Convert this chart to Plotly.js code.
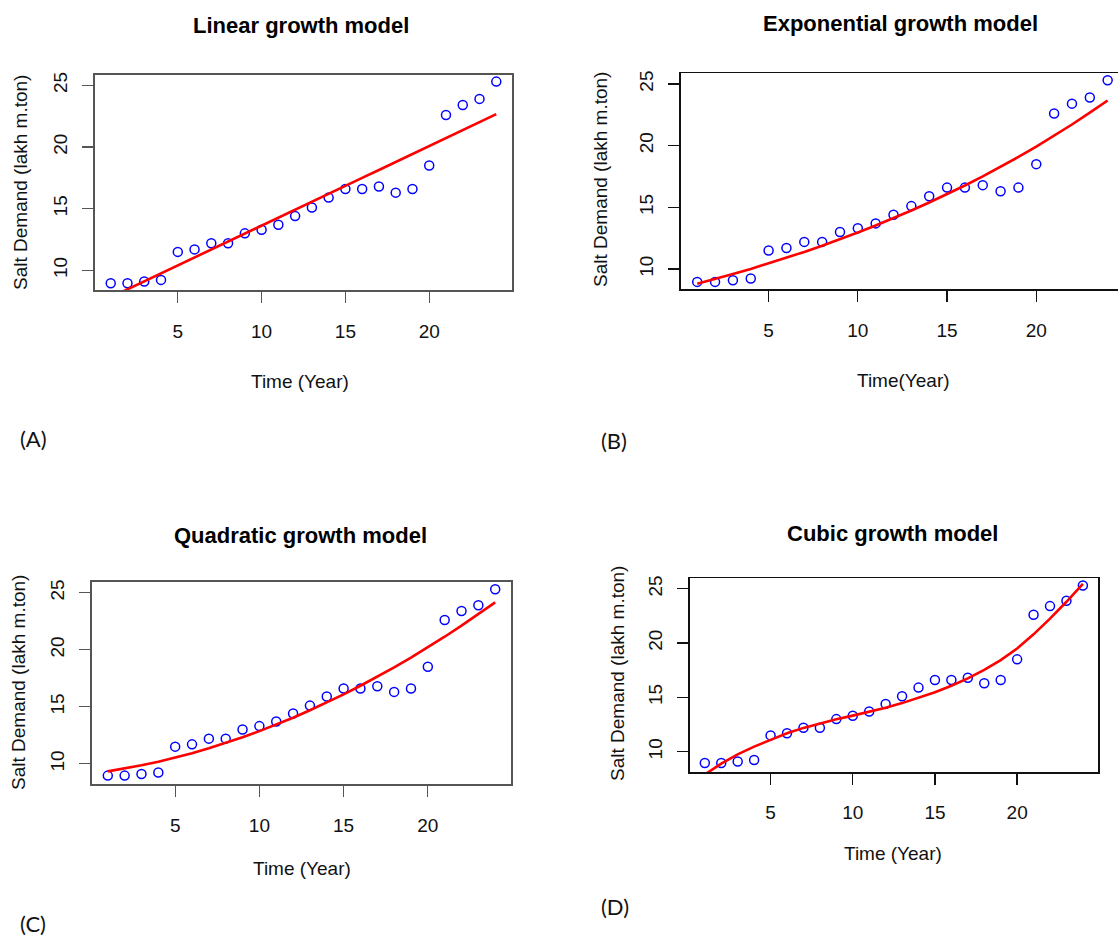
<!DOCTYPE html>
<html>
<head>
<meta charset="utf-8">
<script src="https://cdn.plot.ly/plotly-3.0.1.min.js"></script>
<style>html,body{margin:0;padding:0;background:#fff;}#chart{width:1118px;height:936px;}</style>
</head>
<body>
<div id="chart"></div>
<script>
// ---- data ----
const years = [1,2,3,4,5,6,7,8,9,10,11,12,13,14,15,16,17,18,19,20,21,22,23,24];
const saltDemand = [8.96,8.96,9.1,9.23,11.5,11.7,12.2,12.2,13.0,13.3,13.7,14.4,15.1,15.9,16.6,16.6,16.8,16.3,16.6,18.5,22.6,23.4,23.9,25.3];
const linearFit = [7.82,8.47,9.11,9.76,10.40,11.05,11.69,12.34,12.98,13.63,14.27,14.92,15.56,16.21,16.85,17.50,18.14,18.79,19.43,20.08,20.72,21.37,22.01,22.66];
const exponentialFit = [8.80,9.18,9.59,10.01,10.45,10.91,11.39,11.89,12.41,12.96,13.53,14.12,14.74,15.39,16.07,16.77,17.51,18.28,19.08,19.92,20.80,21.71,22.67,23.66];
const quadraticFit = [9.33,9.58,9.86,10.18,10.54,10.93,11.36,11.83,12.33,12.86,13.43,14.04,14.69,15.37,16.08,16.84,17.62,18.45,19.31,20.21,21.14,22.11,23.11,24.15];
const cubicFit = [7.9,8.9,9.75,10.47,11.09,11.69,12.19,12.61,12.98,13.32,13.67,14.05,14.47,14.94,15.47,16.07,16.75,17.53,18.43,19.5,20.8,22.25,23.8,25.45];
const xTicks = [5,10,15,20];
const yTicks = [10,15,20,25];
const panelTitles = ["Linear growth model","Exponential growth model","Quadratic growth model","Cubic growth model"];
const xTitles = ["Time (Year)","Time(Year)","Time (Year)","Time (Year)"];
const yTitle = "Salt Demand (lakh m.ton)";
const panelTags = ["(A)","(B)","(C)","(D)"];

const fits = [linearFit, exponentialFit, quadraticFit, cubicFit];

// ---- layout geometry (pixels) ----
const W = 1118, H = 936;
const boxes = [
  {l:95.3, r:511.7, t:74.7, b:290.0, xr:[0.08,24.92], yr:[8.41,25.86], col:'#555555', lw:2},
  {l:680.8, r:1118, t:73.3, b:289.3, xr:[0.08,24.58], yr:[8.36,25.86], col:'#111111', lw:1.5, open:true},
  {l:92.3, r:510.7, t:582.0, b:783.7, xr:[0.08,24.92], yr:[8.25,25.94], col:'#555555', lw:2},
  {l:689.7, r:1098, t:578.3, b:772.0, xr:[0.08,24.92], yr:[8.13,25.96], col:'#111111', lw:1.5}
];
const titlePos = [[301,25],[900,23],[300,535],[892,533]];
const xLabPos = [[300,381],[903,380],[302,868],[893,853]];
const yLabPos = [[21,183],[601,180],[18,683],[617,674]];
const tagPos = [[33,438],[614,440],[33,923],[615,906]];

const px = v => v / W;
const py = v => 1 - v / H;

const traces = [];
const layout = {
  width: W, height: H,
  margin: {l:0, r:0, t:0, b:0},
  paper_bgcolor: '#ffffff', plot_bgcolor: '#ffffff',
  showlegend: false,
  annotations: [],
  font: {family: 'Arial, "Liberation Sans", sans-serif', color: '#111111'}
};

const fontAxis = {family: 'Arial, "Liberation Sans", sans-serif', size: 19, color: '#111111'};

boxes.forEach((b, i) => {
  const n = i + 1;
  const xa = 'x' + (n === 1 ? '' : n), ya = 'y' + (n === 1 ? '' : n);
  traces.push({
    x: years, y: saltDemand, xaxis: xa, yaxis: ya, type: 'scatter', mode: 'markers',
    marker: {symbol: 'circle-open', size: 9, color: '#0000ff', line: {width: 1.5, color: '#0000ff'}},
    hoverinfo: 'x+y'
  });
  traces.push({
    x: years, y: fits[i], xaxis: xa, yaxis: ya, type: 'scatter', mode: 'lines',
    line: {color: '#ff0000', width: 2.6}, hoverinfo: 'x+y'
  });
  const xKey = 'xaxis' + (n === 1 ? '' : n), yKey = 'yaxis' + (n === 1 ? '' : n);
  layout[xKey] = {
    domain: [px(b.l), Math.min(1, px(b.r))], range: b.xr, anchor: ya,
    tickmode: 'array', tickvals: xTicks, ticktext: xTicks.map(String),
    ticks: 'outside', ticklen: 11, tickwidth: 1.3, tickcolor: b.col,
    showline: true, linecolor: b.col, linewidth: b.lw, mirror: true,
    showgrid: false, zeroline: false, tickfont: fontAxis, ticklabelstandoff: 12, fixedrange: true
  };
  layout[yKey] = {
    domain: [py(b.b), py(b.t)], range: b.yr, anchor: xa,
    tickmode: 'array', tickvals: yTicks, ticktext: yTicks.map(String),
    ticks: 'outside', ticklen: 11, tickwidth: 1.3, tickcolor: b.col, tickangle: -90,
    showline: true, linecolor: b.col, linewidth: b.lw, mirror: b.open ? false : true,
    showgrid: false, zeroline: false, tickfont: fontAxis, ticklabelstandoff: 8, fixedrange: true
  };
  layout.annotations.push({
    text: panelTitles[i], xref: 'paper', yref: 'paper', x: px(titlePos[i][0]), y: py(titlePos[i][1]),
    xanchor: 'center', yanchor: 'middle', showarrow: false,
    font: {family: 'Arial, "Liberation Sans", sans-serif', size: 22, weight: 'bold', color: '#000000'}
  });
  layout.annotations.push({
    text: xTitles[i], xref: 'paper', yref: 'paper', x: px(xLabPos[i][0]), y: py(xLabPos[i][1]),
    xanchor: 'center', yanchor: 'middle', showarrow: false, font: fontAxis
  });
  layout.annotations.push({
    text: yTitle, xref: 'paper', yref: 'paper', x: px(yLabPos[i][0]), y: py(yLabPos[i][1]),
    xanchor: 'center', yanchor: 'middle', showarrow: false, textangle: -90, font: fontAxis
  });
  layout.annotations.push({
    text: panelTags[i], xref: 'paper', yref: 'paper', x: px(tagPos[i][0]), y: py(tagPos[i][1]),
    xanchor: 'center', yanchor: 'middle', showarrow: false,
    font: {family: 'Lato, "Open Sans", sans-serif', size: 22, color: '#111111'}
  });
});

Plotly.newPlot('chart', traces, layout, {displayModeBar: false, staticPlot: true});
</script>
</body>
</html>
